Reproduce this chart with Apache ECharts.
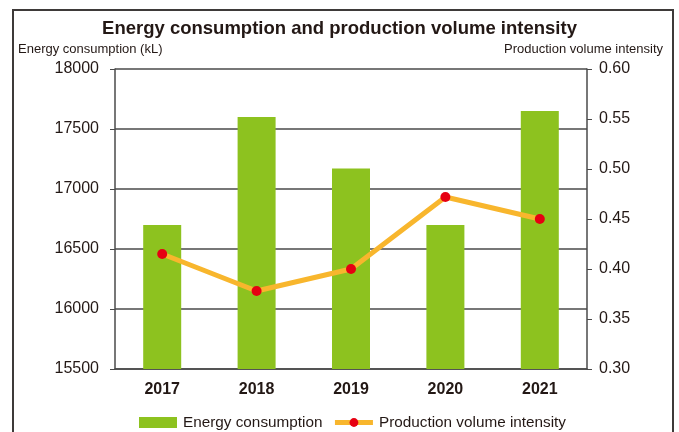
<!DOCTYPE html>
<html>
<head>
<meta charset="utf-8">
<script src="https://cdn.jsdelivr.net/npm/echarts@6/dist/echarts.min.js"></script>
<style>
  html, body { margin: 0; padding: 0; background: #fff; }
  #chart { width: 679px; height: 432px; }
</style>
</head>
<body>
<div id="chart"></div>
<script>
// data
const years = ["2017", "2018", "2019", "2020", "2021"];
const energyConsumption = [16700, 17600, 17170, 16700, 17650];
const productionIntensity = [0.415, 0.378, 0.400, 0.472, 0.450];

const leftTicks = { min: 15500, max: 18000, interval: 500 };
const rightTicks = { min: 0.30, max: 0.60, interval: 0.05 };

const textColor = "#231815";
const font = "'Liberation Sans', Arial, sans-serif";

const chart = echarts.init(document.getElementById("chart"));

chart.setOption({
  animation: false,
  backgroundColor: "#fff",
  textStyle: { fontFamily: font, color: textColor },
  title: {
    text: "Energy consumption and production volume intensity",
    left: "center",
    top: 14,
    textStyle: { fontFamily: font, fontSize: 18.5, fontWeight: "bold", color: textColor }
  },
  graphic: [
    {
      // outer frame
      type: "rect",
      shape: { x: 13, y: 10, width: 660, height: 460 },
      style: { fill: "none", stroke: "#3e3a39", lineWidth: 2 },
      silent: true
    },
    {
      type: "text",
      left: 18,
      top: 43,
      style: { text: "Energy consumption (kL)", font: "13px " + font, fill: textColor }
    },
    {
      type: "text",
      right: 16,
      top: 43,
      style: { text: "Production volume intensity", font: "13px " + font, fill: textColor }
    }
  ],
  legend: {
    top: 410,
    left: 134,
    itemWidth: 38,
    itemHeight: 11,
    itemGap: 10,
    textStyle: { fontSize: 15.3, color: textColor, fontFamily: font, padding: [0, 0, 0, 1] },
    data: [
      { name: "Energy consumption", icon: "rect" },
      { name: "Production volume intensity", lineStyle: { width: 5 } }
    ]
  },
  grid: { left: 115, right: 92, top: 69, bottom: 63 },
  xAxis: {
    type: "category",
    data: years,
    axisLine: { lineStyle: { color: "#4a4a4a", width: 1.5 } },
    axisTick: { show: false },
    axisLabel: { fontSize: 16, fontWeight: "bold", color: textColor, margin: 13 }
  },
  yAxis: [
    {
      type: "value",
      min: leftTicks.min,
      max: leftTicks.max,
      interval: leftTicks.interval,
      axisLine: { show: true, lineStyle: { color: "#4a4a4a", width: 1.5 } },
      axisTick: { show: true, length: 5, lineStyle: { color: "#4a4a4a" } },
      axisLabel: { fontSize: 16, color: textColor, margin: 16, formatter: (v) => String(v) },
      splitLine: { show: true, lineStyle: { color: "#4a4a4a", width: 1.5 } }
    },
    {
      type: "value",
      min: rightTicks.min,
      max: rightTicks.max,
      interval: rightTicks.interval,
      axisLine: { show: true, lineStyle: { color: "#4a4a4a", width: 1.5 } },
      axisTick: { show: true, length: 5, lineStyle: { color: "#4a4a4a" } },
      axisLabel: { fontSize: 16, color: textColor, margin: 12, formatter: (v) => v.toFixed(2) },
      splitLine: { show: false }
    }
  ],
  series: [
    {
      name: "Energy consumption",
      type: "bar",
      data: energyConsumption,
      barWidth: 38,
      itemStyle: { color: "#8dc21f" }
    },
    {
      name: "Production volume intensity",
      type: "line",
      yAxisIndex: 1,
      data: productionIntensity,
      symbol: "circle",
      symbolSize: 10,
      lineStyle: { color: "#f8b62d", width: 5 },
      itemStyle: { color: "#e60012" },
      z: 5
    }
  ]
});
</script>
</body>
</html>
